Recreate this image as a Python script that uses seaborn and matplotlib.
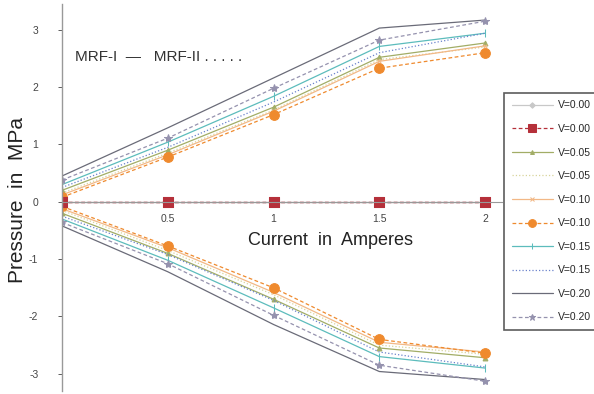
import matplotlib
matplotlib.use("Agg")
import matplotlib.pyplot as plt
import seaborn as sns
import pandas as pd

sns.set_theme(style="white")
plt.rcParams["font.family"] = ["Liberation Sans", "DejaVu Sans"]

current = [0.0, 0.5, 1.0, 1.5, 2.0]

labels = ["V=0.00", "V=0.00", "V=0.05", "V=0.05", "V=0.10",
          "V=0.10", "V=0.15", "V=0.15", "V=0.20", "V=0.20"]

# positive (upper) branch of each series, MPa
p_v000_i = [0.00, 0.00, 0.00, 0.00, 0.00]
p_v000_ii = [0.00, 0.00, 0.00, 0.00, 0.00]
p_v005_i = [0.20, 0.90, 1.65, 2.52, 2.77]
p_v005_ii = [0.15, 0.85, 1.60, 2.48, 2.70]
p_v010_i = [0.12, 0.82, 1.58, 2.45, 2.72]
p_v010_ii = [0.08, 0.78, 1.52, 2.33, 2.60]
p_v015_i = [0.30, 1.04, 1.84, 2.71, 2.94]
p_v015_ii = [0.25, 0.95, 1.74, 2.60, 2.94]
p_v020_i = [0.45, 1.29, 2.16, 3.03, 3.17]
p_v020_ii = [0.38, 1.11, 1.98, 2.82, 3.15]

# negative (lower) branch of each series, MPa
n_v000_i = [0.00, 0.00, 0.00, 0.00, 0.00]
n_v000_ii = [0.00, 0.00, 0.00, 0.00, 0.00]
n_v005_i = [-0.20, -0.90, -1.70, -2.55, -2.72]
n_v005_ii = [-0.15, -0.85, -1.62, -2.50, -2.66]
n_v010_i = [-0.12, -0.80, -1.58, -2.45, -2.62]
n_v010_ii = [-0.08, -0.77, -1.50, -2.40, -2.64]
n_v015_i = [-0.30, -1.02, -1.85, -2.70, -2.90]
n_v015_ii = [-0.25, -0.92, -1.72, -2.62, -2.88]
n_v020_i = [-0.42, -1.22, -2.14, -2.96, -3.10]
n_v020_ii = [-0.36, -1.08, -1.98, -2.85, -3.13]

upper = [p_v000_i, p_v000_ii, p_v005_i, p_v005_ii, p_v010_i,
         p_v010_ii, p_v015_i, p_v015_ii, p_v020_i, p_v020_ii]
lower = [n_v000_i, n_v000_ii, n_v005_i, n_v005_ii, n_v010_i,
         n_v010_ii, n_v015_i, n_v015_ii, n_v020_i, n_v020_ii]

styles = [
    dict(color="#c8c8c8", linestyle="-", marker="D", markersize=3.5),
    dict(color="#b5303a", linestyle=(0, (3, 2)), marker="s", markersize=6.5),
    dict(color="#a2ad66", linestyle="-", marker="^", markersize=3.5),
    dict(color="#d8d49a", linestyle=":", marker=None, markersize=0),
    dict(color="#f2b886", linestyle="-", marker="x", markersize=3.5),
    dict(color="#ef8a2e", linestyle=(0, (3, 2)), marker="o", markersize=7),
    dict(color="#5cbcbc", linestyle="-", marker="|", markersize=6),
    dict(color="#6a82cc", linestyle=":", marker=None, markersize=0),
    dict(color="#6a6b78", linestyle="-", marker=None, markersize=0),
    dict(color="#9592ae", linestyle=(0, (3, 2)), marker="*", markersize=6),
]

fig = plt.figure(figsize=(5.94, 3.94), dpi=100)
ax = fig.add_axes([62 / 594, 3 / 394, 440 / 594, 387 / 394])

order = [0, 2, 3, 4, 6, 7, 8, 9, 5, 1]
for i in order:
    st = styles[i]
    for branch, vals in (("up", upper[i]), ("down", lower[i])):
        df = pd.DataFrame({"current": current, "pressure": vals})
        sns.lineplot(data=df, x="current", y="pressure", ax=ax,
                     color=st["color"], linestyle=st["linestyle"],
                     marker=st["marker"], markersize=st["markersize"],
                     markeredgecolor=st["color"], linewidth=0.9,
                     label=labels[i] if branch == "up" else None,
                     legend=False)

ax.set_xlim(0, 2.08)
ax.set_ylim(-3.3, 3.45)

for s in ("top", "right"):
    ax.spines[s].set_visible(False)
ax.spines["left"].set_position(("data", 0))
ax.spines["bottom"].set_position(("data", 0))
ax.spines["left"].set_color("#999999")
ax.spines["bottom"].set_color("#999999")
ax.spines["left"].set_linewidth(1.0)
ax.spines["bottom"].set_linewidth(0.8)

ax.set_xticks([0.5, 1.0, 1.5, 2.0])
ax.set_xticklabels(["0.5", "1", "1.5", "2"])
ax.set_yticks([-3, -2, -1, 0, 1, 2, 3])
ax.set_yticklabels(["-3", "-2", "-1", "0", "1", "2", "3"])
ax.tick_params(axis="both", labelsize=7.5, colors="#444444",
               length=3, direction="out", pad=14)
ax.tick_params(axis="x", pad=9, length=0)
ax.tick_params(axis="y", length=3, width=0.6, left=True)

ax.set_xlabel("")
ax.set_ylabel("")
fig.text(330 / 594, 1 - 240 / 394, "Current  in  Amperes", ha="center",
         va="center", fontsize=13, color="#222222")
fig.text(18 / 594, 1 - 200 / 394, "Pressure  in  MPa", rotation=90,
         ha="center", va="center", fontsize=15, color="#222222")
fig.text(75 / 594, 1 - 57 / 394, "MRF-I  —   MRF-II . . . . .",
         ha="left", va="center", fontsize=11, color="#333333")

handles, lbls = ax.get_legend_handles_labels()
hmap = dict(zip(order, handles))
leg_handles = [hmap[i] for i in range(10)]
leg = fig.legend(leg_handles, labels, loc="upper left",
                 bbox_to_anchor=(499 / 594, 1 - 88 / 394),
                 fontsize=7.5, frameon=True, fancybox=False,
                 edgecolor="#333333", handlelength=4.0,
                 labelspacing=1.3, borderpad=0.7, markerscale=0.8,
                 handletextpad=0.5)
leg.get_frame().set_linewidth(1.2)

fig.savefig("out.png", dpi=100)
